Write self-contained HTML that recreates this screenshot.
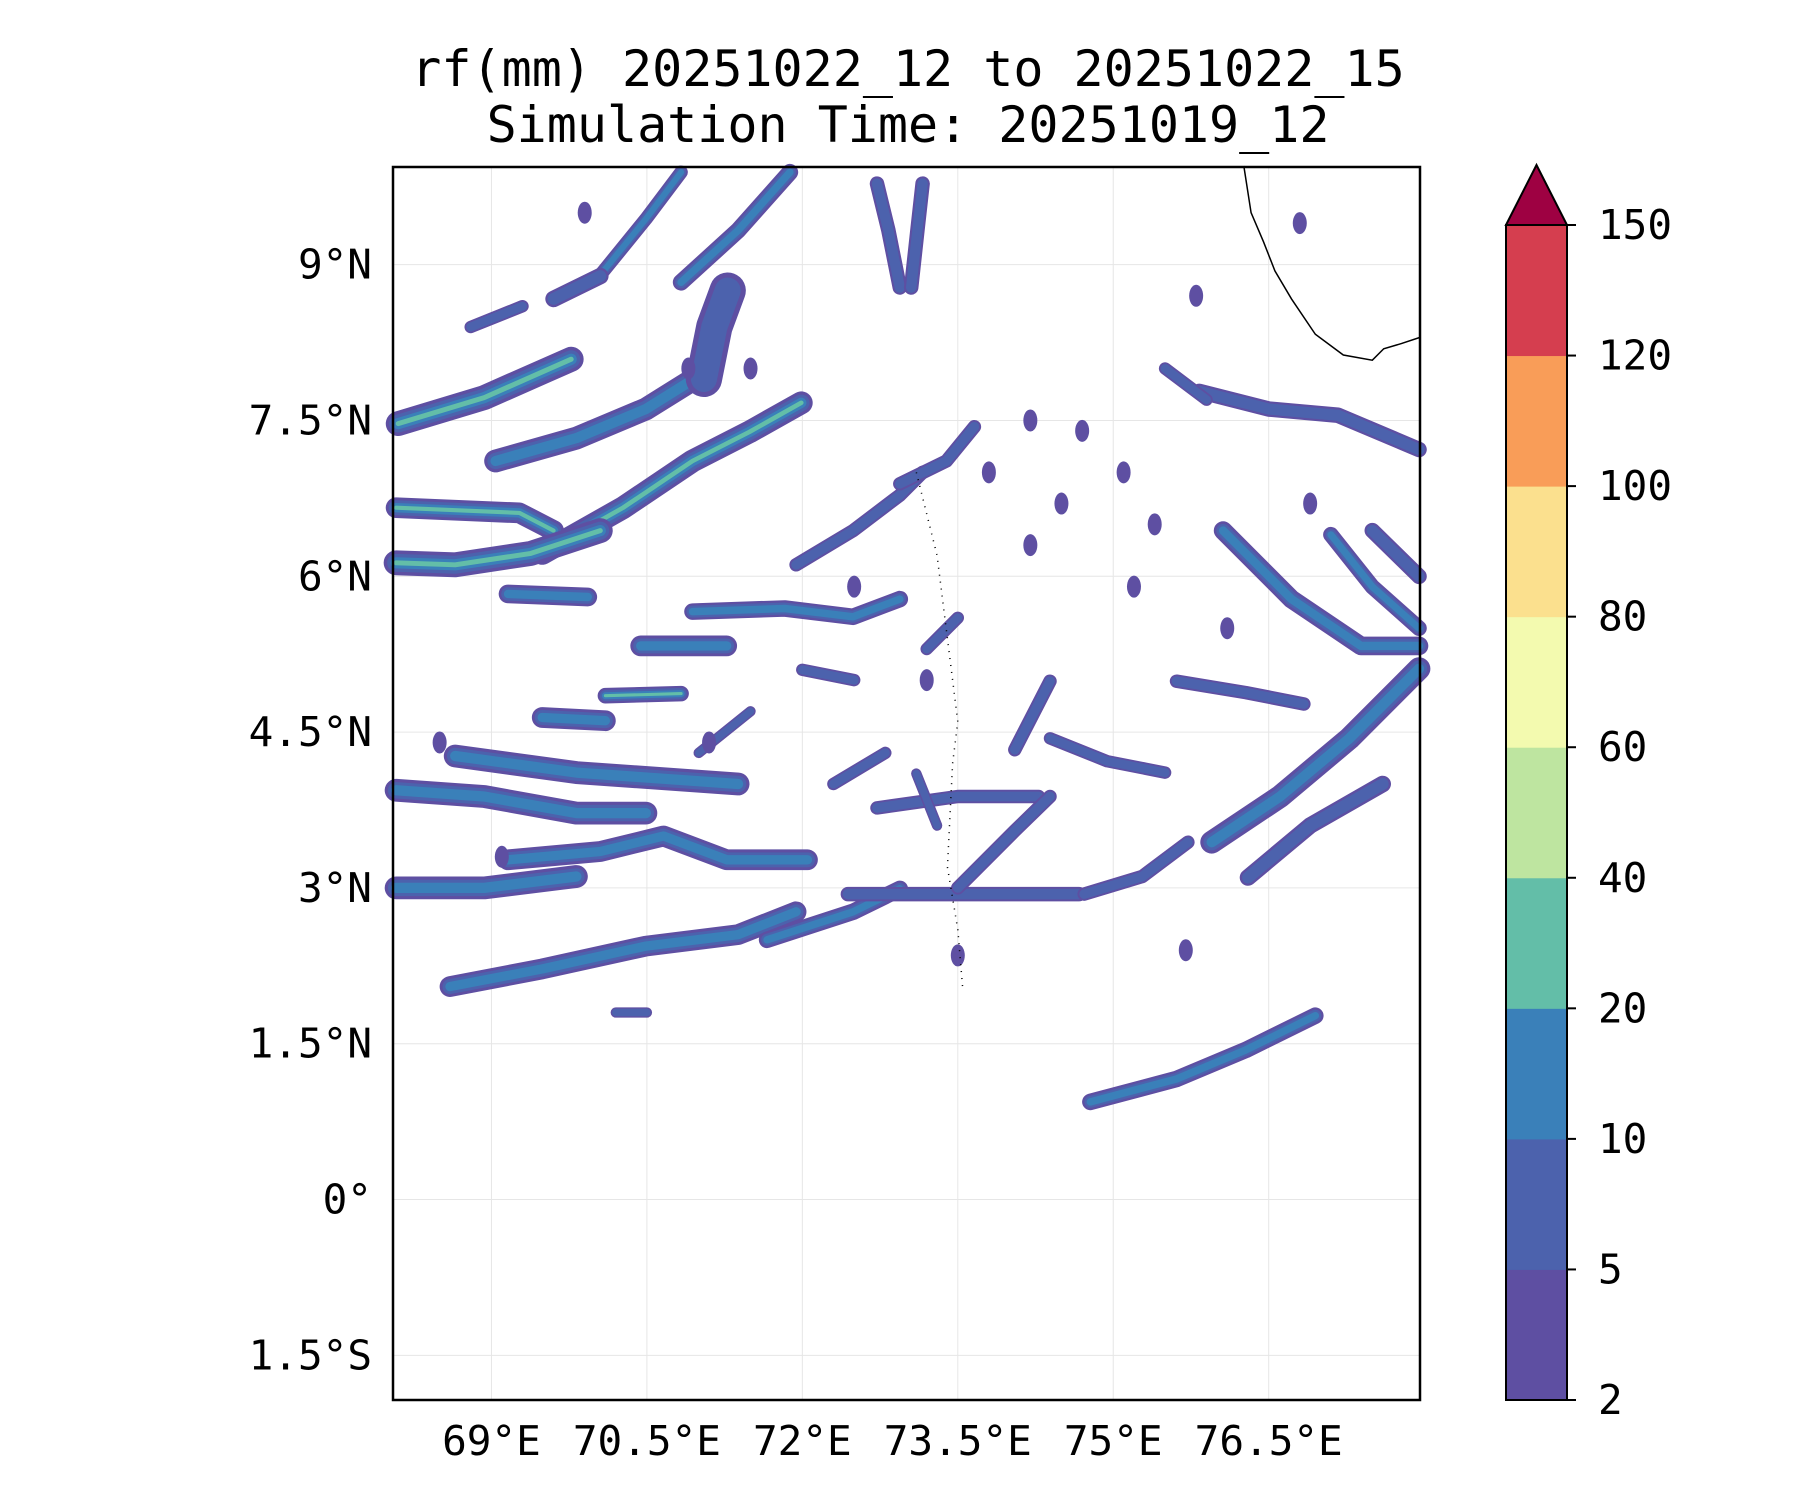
<!DOCTYPE html>
<html><head><meta charset="utf-8"><style>
body{margin:0;background:#fff}
svg{display:block}
text{font-family:"DejaVu Sans Mono","Liberation Mono",monospace;fill:#000}
</style></head><body>
<svg id="chart" width="1800" height="1500" viewBox="0 0 1800 1500" xmlns="http://www.w3.org/2000/svg">
<text x="908" y="86" font-size="50" text-anchor="middle">rf(mm) 20251022_12 to 20251022_15</text>
<text x="908" y="142" font-size="50" text-anchor="middle">Simulation Time: 20251019_12</text>
<g id="grid"></g>
<g id="rain"></g>
<g id="coast"></g>
<rect x="393" y="167" width="1027" height="1233" fill="none" stroke="#000" stroke-width="2.5"/>
<g id="xt"></g><g id="yt"></g><g id="cbar"></g>
</svg>
<script>
const lonTicks=[69,70.5,72,73.5,75,76.5];
const lonLabels=["69°E","70.5°E","72°E","73.5°E","75°E","76.5°E"];
const latTicks=[9,7.5,6,4.5,3,1.5,0,-1.5];
const latLabels=["9°N","7.5°N","6°N","4.5°N","3°N","1.5°N","0°","1.5°S"];
const cbarLevels=[2,5,10,20,40,60,80,100,120,150];
const cbarColors=["#5e4fa2","#4c62ad","#3a80b9","#63bea8","#bee5a0","#f3faaf","#fbe08e","#f99d58","#d53e4f"];
const extendColor="#9e0142";
// rain bands: lon/lat polylines, width (deg), max level index
const bandPaths=[
[[68.10,7.47],[68.93,7.72],[69.77,8.09]],
[[69.04,7.11],[69.82,7.33],[70.49,7.61],[70.94,7.89],[71.10,8.22],[71.27,8.67]],
[[71.05,7.9],[71.15,8.4],[71.28,8.75]],
[[69.49,6.22],[70.27,6.66],[70.94,7.11],[71.49,7.39],[71.99,7.67]],
[[68.08,6.66],[69.27,6.61],[69.60,6.44]],
[[68.08,6.13],[68.65,6.11],[69.38,6.22],[70.05,6.44]],
[[70.83,8.83],[71.38,9.33],[71.88,9.89]],
[[70.05,8.9],[70.49,9.44],[70.83,9.89]],
[[69.60,8.67],[70.05,8.89]],
[[68.80,8.4],[69.30,8.6]],
[[69.16,5.83],[69.93,5.80]],
[[70.44,5.33],[71.27,5.33]],
[[70.94,5.66],[71.83,5.69],[72.49,5.61],[72.94,5.78]],
[[70.10,4.85],[70.83,4.87]],
[[69.49,4.64],[70.10,4.61]],
[[68.65,4.27],[69.82,4.11],[71.38,4.0]],
[[68.08,3.94],[68.93,3.88],[69.82,3.72],[70.49,3.72]],
[[69.16,3.27],[70.05,3.35],[70.66,3.50],[71.27,3.27],[72.05,3.27]],
[[68.08,3.0],[68.93,3.0],[69.82,3.11]],
[[68.60,2.05],[69.49,2.22],[70.49,2.44],[71.38,2.55],[71.94,2.77]],
[[71.66,2.50],[72.49,2.77],[72.94,2.99]],
[[72.44,2.94],[73.50,2.94],[74.67,2.94]],
[[74.78,0.94],[75.61,1.16],[76.28,1.44],[76.95,1.77]],
[[75.83,7.78],[76.50,7.61],[77.17,7.55],[77.95,7.22]],
[[75.5,8.0],[75.9,7.7]],
[[76.06,6.44],[76.72,5.78],[77.39,5.33],[77.95,5.33]],
[[77.1,6.4],[77.5,5.9],[77.95,5.5]],
[[77.50,6.44],[77.95,6.0]],
[[75.61,4.99],[76.28,4.88],[76.84,4.77]],
[[75.95,3.44],[76.61,3.88],[77.28,4.44],[77.95,5.11]],
[[76.3,3.1],[76.9,3.6],[77.6,4.0]],
[[74.05,4.33],[74.39,4.99]],
[[74.39,4.44],[74.94,4.22],[75.50,4.11]],
[[72.72,3.77],[73.50,3.88],[74.28,3.88]],
[[73.50,3.0],[74.05,3.55],[74.39,3.88]],
[[74.72,2.94],[75.28,3.11],[75.72,3.44]],
[[71.94,6.11],[72.49,6.44],[72.94,6.78],[73.16,7.0]],
[[72.94,6.89],[73.39,7.11],[73.66,7.44]],
[[72.72,9.78],[72.83,9.33],[72.94,8.78]],
[[73.16,9.78],[73.11,9.33],[73.05,8.78]],
[[72.0,5.1],[72.5,5.0]],
[[73.2,5.3],[73.5,5.6]],
[[72.3,4.0],[72.8,4.3]],
[[73.1,4.1],[73.3,3.6]],
[[71.0,4.3],[71.5,4.7]],
[[70.2,1.8],[70.5,1.8]]
];
const bandWidths=[0.24,0.22,0.35,0.22,0.2,0.24,0.16,0.13,0.16,0.12,0.18,0.2,0.16,0.15,0.2,0.22,0.22,0.2,0.22,0.2,0.16,0.14,0.16,0.15,0.12,0.18,0.15,0.15,0.13,0.22,0.16,0.13,0.12,0.13,0.13,0.13,0.13,0.13,0.14,0.14,0.12,0.12,0.12,0.1,0.1,0.1];
const bandMaxLevel=[3,2,1,3,3,3,2,2,1,1,2,2,2,3,2,2,2,2,2,2,2,1,2,1,1,2,2,1,1,2,1,1,1,1,1,1,1,1,1,1,1,1,1,1,1,1];
const blobLon=[69.9,70.9,71.5,74.2,76.8,75.8,74.7,75.1,73.8,74.5,75.4,75.2,76.9,76.1,73.2,72.5,71.1,69.1,68.5,73.5,74.2,75.7];
const blobLat=[9.5,8.0,8.0,7.5,9.4,8.7,7.4,7.0,7.0,6.7,6.5,5.9,6.7,5.5,5.0,5.9,4.4,3.3,4.4,2.35,6.3,2.4];
const coastLon=[76.26,76.33,76.45,76.56,76.72,76.95,77.22,77.50,77.61,77.78,77.96];
const coastLat=[9.95,9.5,9.22,8.94,8.67,8.33,8.13,8.08,8.19,8.24,8.30];
const islandLon=[73.1,73.2,73.3,73.35,73.4,73.45,73.5,73.45,73.4,73.5,73.55];
const islandLat=[7.0,6.6,6.2,5.8,5.4,5.0,4.6,4.2,3.2,2.6,2.0];

const X0=393,X1=1420,Y0=167,Y1=1400,LON0=68.05,LON1=77.96,LAT0=-1.93,LAT1=9.94;
const xs=l=>X0+(l-LON0)/(LON1-LON0)*(X1-X0);
const ys=l=>Y1-(l-LAT0)/(LAT1-LAT0)*(Y1-Y0);
const pxPerDeg=(X1-X0)/(LON1-LON0);
const NS="http://www.w3.org/2000/svg";
function mk(t,a,p){const e=document.createElementNS(NS,t);for(const k in a)e.setAttribute(k,a[k]);p.appendChild(e);return e;}
const grid=document.getElementById('grid'),xt=document.getElementById('xt'),yt=document.getElementById('yt');
lonTicks.forEach((v,i)=>{
 const l=mk('line',{x1:xs(v),x2:xs(v),y1:Y0,y2:Y1,stroke:'#e6e6e6','stroke-width':1},grid);
 
 
 const t=mk('text',{x:xs(v),y:1455,'font-size':41,'text-anchor':'middle'},xt);t.textContent=lonLabels[i];
 
 
});
latTicks.forEach((v,i)=>{
 const l=mk('line',{x1:X0,x2:X1,y1:ys(v),y2:ys(v),stroke:'#e6e6e6','stroke-width':1},grid);
 
 
 const t=mk('text',{x:372,y:ys(v)+14,'font-size':41,'text-anchor':'end'},yt);t.textContent=latLabels[i];
 
 
});
const rain=document.getElementById('rain');
const fr=[1,0.72,0.45,0.2];
bandPaths.forEach((pts,i)=>{
 const d='M'+pts.map(p=>xs(p[0]).toFixed(1)+','+ys(p[1]).toFixed(1)).join('L');
 for(let lv=0;lv<=bandMaxLevel[i];lv++){
  const p=mk('path',{d:d,fill:'none',stroke:cbarColors[lv],'stroke-width':bandWidths[i]*pxPerDeg*fr[lv],'stroke-linecap':'round','stroke-linejoin':'round'},rain);
  
  
 }
});
blobLon.forEach((v,i)=>{
 const e=mk('ellipse',{cx:xs(v),cy:ys(blobLat[i]),rx:7,ry:11,fill:cbarColors[0]},rain);
 
 
});
const coast=document.getElementById('coast');
const c=mk('path',{d:'M'+coastLon.map((v,i)=>xs(v)+','+ys(coastLat[i])).join('L'),fill:'none',stroke:'#000','stroke-width':1.5},coast);


const isl=mk('path',{d:'M'+islandLon.map((v,i)=>xs(v)+','+ys(islandLat[i])).join('L'),fill:'none',stroke:'#000','stroke-width':1.5,'stroke-dasharray':'1 6'},coast);


const cb=document.getElementById('cbar');
const CX=1506,CW=61,CB=1400,CT=225,seg=(CB-CT)/cbarColors.length;
cbarColors.forEach((col,i)=>{
 const r=mk('rect',{x:CX,y:CB-(i+1)*seg,width:CW,height:seg+0.5,fill:col},cb);
 
 
});
const tri=mk('polygon',{points:`${CX},${CT} ${CX+CW/2},165 ${CX+CW},${CT}`,fill:extendColor,stroke:'#000','stroke-width':2},cb);


const fr2=mk('rect',{x:CX,y:CT,width:CW,height:CB-CT,fill:'none',stroke:'#000','stroke-width':2},cb);


cbarLevels.forEach((v,i)=>{
 const y=CB-i*seg;
 mk('line',{x1:CX+CW,x2:CX+CW+9,y1:y,y2:y,stroke:'#000','stroke-width':2},cb);
 const t=mk('text',{x:1598,y:y+14,'font-size':41},cb);t.textContent=v;
 
 
});
</script>
</body></html>
